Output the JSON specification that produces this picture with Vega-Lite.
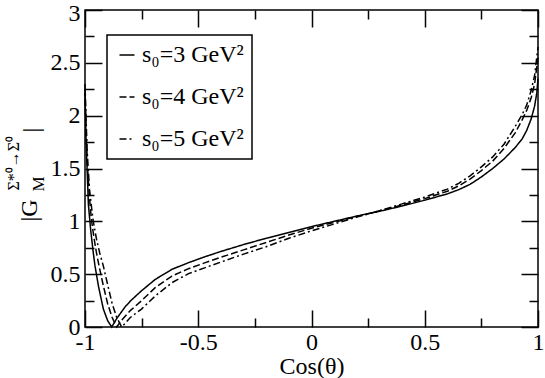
{
  "$schema": "https://vega.github.io/schema/vega-lite/v6.json",
  "width": 453,
  "height": 317,
  "autosize": {"type": "none"},
  "padding": {"left": 85, "top": 10, "right": 7, "bottom": 51},
  "background": "white",
  "config": {
    "font": "Liberation Serif",
    "view": {"stroke": "black", "strokeWidth": 1.5},
    "legend": {"strokeWidth": 1.5},
    "axis": {"grid": false, "domain": false, "labelColor": "black", "titleColor": "black", "labelFontSize": 24, "titleFontSize": 24, "titleFontWeight": "normal", "labelFont": "Liberation Serif", "titleFont": "Liberation Serif"}
  },
  "data": {"values": [
    {"x": -1, "y": 2.22, "s": "s₀=3 GeV²"},
    {"x": -0.995, "y": 1.75, "s": "s₀=3 GeV²"},
    {"x": -0.99, "y": 1.45, "s": "s₀=3 GeV²"},
    {"x": -0.985, "y": 1.16, "s": "s₀=3 GeV²"},
    {"x": -0.975, "y": 0.92, "s": "s₀=3 GeV²"},
    {"x": -0.965, "y": 0.73, "s": "s₀=3 GeV²"},
    {"x": -0.956, "y": 0.58, "s": "s₀=3 GeV²"},
    {"x": -0.94, "y": 0.38, "s": "s₀=3 GeV²"},
    {"x": -0.919, "y": 0.17, "s": "s₀=3 GeV²"},
    {"x": -0.9, "y": 0.06, "s": "s₀=3 GeV²"},
    {"x": -0.882, "y": 0.0, "s": "s₀=3 GeV²"},
    {"x": -0.86, "y": 0.08, "s": "s₀=3 GeV²"},
    {"x": -0.84, "y": 0.14, "s": "s₀=3 GeV²"},
    {"x": -0.823, "y": 0.19, "s": "s₀=3 GeV²"},
    {"x": -0.8, "y": 0.245, "s": "s₀=3 GeV²"},
    {"x": -0.752, "y": 0.34, "s": "s₀=3 GeV²"},
    {"x": -0.69, "y": 0.45, "s": "s₀=3 GeV²"},
    {"x": -0.616, "y": 0.546, "s": "s₀=3 GeV²"},
    {"x": -0.543, "y": 0.609, "s": "s₀=3 GeV²"},
    {"x": -0.469, "y": 0.666, "s": "s₀=3 GeV²"},
    {"x": -0.4, "y": 0.715, "s": "s₀=3 GeV²"},
    {"x": -0.3, "y": 0.78, "s": "s₀=3 GeV²"},
    {"x": -0.2, "y": 0.84, "s": "s₀=3 GeV²"},
    {"x": -0.1, "y": 0.895, "s": "s₀=3 GeV²"},
    {"x": 0, "y": 0.95, "s": "s₀=3 GeV²"},
    {"x": 0.1, "y": 1.0, "s": "s₀=3 GeV²"},
    {"x": 0.2, "y": 1.05, "s": "s₀=3 GeV²"},
    {"x": 0.3, "y": 1.095, "s": "s₀=3 GeV²"},
    {"x": 0.4, "y": 1.145, "s": "s₀=3 GeV²"},
    {"x": 0.5, "y": 1.2, "s": "s₀=3 GeV²"},
    {"x": 0.6, "y": 1.26, "s": "s₀=3 GeV²"},
    {"x": 0.65, "y": 1.3, "s": "s₀=3 GeV²"},
    {"x": 0.7, "y": 1.35, "s": "s₀=3 GeV²"},
    {"x": 0.75, "y": 1.42, "s": "s₀=3 GeV²"},
    {"x": 0.8, "y": 1.5, "s": "s₀=3 GeV²"},
    {"x": 0.85, "y": 1.59, "s": "s₀=3 GeV²"},
    {"x": 0.9, "y": 1.7, "s": "s₀=3 GeV²"},
    {"x": 0.93, "y": 1.78, "s": "s₀=3 GeV²"},
    {"x": 0.95, "y": 1.86, "s": "s₀=3 GeV²"},
    {"x": 0.97, "y": 1.97, "s": "s₀=3 GeV²"},
    {"x": 0.985, "y": 2.09, "s": "s₀=3 GeV²"},
    {"x": 0.995, "y": 2.22, "s": "s₀=3 GeV²"},
    {"x": 1, "y": 2.35, "s": "s₀=3 GeV²"},

    {"x": -1, "y": 2.25, "s": "s₀=4 GeV²"},
    {"x": -0.995, "y": 1.85, "s": "s₀=4 GeV²"},
    {"x": -0.99, "y": 1.55, "s": "s₀=4 GeV²"},
    {"x": -0.98, "y": 1.22, "s": "s₀=4 GeV²"},
    {"x": -0.972, "y": 1.02, "s": "s₀=4 GeV²"},
    {"x": -0.96, "y": 0.84, "s": "s₀=4 GeV²"},
    {"x": -0.95, "y": 0.71, "s": "s₀=4 GeV²"},
    {"x": -0.938, "y": 0.577, "s": "s₀=4 GeV²"},
    {"x": -0.92, "y": 0.4, "s": "s₀=4 GeV²"},
    {"x": -0.9, "y": 0.22, "s": "s₀=4 GeV²"},
    {"x": -0.88, "y": 0.09, "s": "s₀=4 GeV²"},
    {"x": -0.86, "y": 0.0, "s": "s₀=4 GeV²"},
    {"x": -0.84, "y": 0.06, "s": "s₀=4 GeV²"},
    {"x": -0.8, "y": 0.155, "s": "s₀=4 GeV²"},
    {"x": -0.752, "y": 0.246, "s": "s₀=4 GeV²"},
    {"x": -0.69, "y": 0.372, "s": "s₀=4 GeV²"},
    {"x": -0.616, "y": 0.482, "s": "s₀=4 GeV²"},
    {"x": -0.543, "y": 0.552, "s": "s₀=4 GeV²"},
    {"x": -0.469, "y": 0.609, "s": "s₀=4 GeV²"},
    {"x": -0.4, "y": 0.66, "s": "s₀=4 GeV²"},
    {"x": -0.3, "y": 0.73, "s": "s₀=4 GeV²"},
    {"x": -0.2, "y": 0.8, "s": "s₀=4 GeV²"},
    {"x": -0.1, "y": 0.87, "s": "s₀=4 GeV²"},
    {"x": 0, "y": 0.935, "s": "s₀=4 GeV²"},
    {"x": 0.1, "y": 0.99, "s": "s₀=4 GeV²"},
    {"x": 0.2, "y": 1.045, "s": "s₀=4 GeV²"},
    {"x": 0.3, "y": 1.1, "s": "s₀=4 GeV²"},
    {"x": 0.4, "y": 1.155, "s": "s₀=4 GeV²"},
    {"x": 0.5, "y": 1.215, "s": "s₀=4 GeV²"},
    {"x": 0.6, "y": 1.285, "s": "s₀=4 GeV²"},
    {"x": 0.65, "y": 1.335, "s": "s₀=4 GeV²"},
    {"x": 0.7, "y": 1.4, "s": "s₀=4 GeV²"},
    {"x": 0.75, "y": 1.48, "s": "s₀=4 GeV²"},
    {"x": 0.8, "y": 1.57, "s": "s₀=4 GeV²"},
    {"x": 0.85, "y": 1.69, "s": "s₀=4 GeV²"},
    {"x": 0.9, "y": 1.84, "s": "s₀=4 GeV²"},
    {"x": 0.93, "y": 1.96, "s": "s₀=4 GeV²"},
    {"x": 0.95, "y": 2.05, "s": "s₀=4 GeV²"},
    {"x": 0.97, "y": 2.17, "s": "s₀=4 GeV²"},
    {"x": 0.985, "y": 2.3, "s": "s₀=4 GeV²"},
    {"x": 1, "y": 2.55, "s": "s₀=4 GeV²"},

    {"x": -1, "y": 2.3, "s": "s₀=5 GeV²"},
    {"x": -0.995, "y": 1.95, "s": "s₀=5 GeV²"},
    {"x": -0.99, "y": 1.65, "s": "s₀=5 GeV²"},
    {"x": -0.98, "y": 1.3, "s": "s₀=5 GeV²"},
    {"x": -0.965, "y": 1.02, "s": "s₀=5 GeV²"},
    {"x": -0.95, "y": 0.84, "s": "s₀=5 GeV²"},
    {"x": -0.935, "y": 0.7, "s": "s₀=5 GeV²"},
    {"x": -0.919, "y": 0.577, "s": "s₀=5 GeV²"},
    {"x": -0.9, "y": 0.4, "s": "s₀=5 GeV²"},
    {"x": -0.88, "y": 0.22, "s": "s₀=5 GeV²"},
    {"x": -0.86, "y": 0.09, "s": "s₀=5 GeV²"},
    {"x": -0.838, "y": 0.0, "s": "s₀=5 GeV²"},
    {"x": -0.8, "y": 0.09, "s": "s₀=5 GeV²"},
    {"x": -0.752, "y": 0.167, "s": "s₀=5 GeV²"},
    {"x": -0.69, "y": 0.293, "s": "s₀=5 GeV²"},
    {"x": -0.616, "y": 0.42, "s": "s₀=5 GeV²"},
    {"x": -0.543, "y": 0.505, "s": "s₀=5 GeV²"},
    {"x": -0.469, "y": 0.562, "s": "s₀=5 GeV²"},
    {"x": -0.4, "y": 0.615, "s": "s₀=5 GeV²"},
    {"x": -0.3, "y": 0.69, "s": "s₀=5 GeV²"},
    {"x": -0.2, "y": 0.76, "s": "s₀=5 GeV²"},
    {"x": -0.1, "y": 0.84, "s": "s₀=5 GeV²"},
    {"x": 0, "y": 0.91, "s": "s₀=5 GeV²"},
    {"x": 0.1, "y": 0.975, "s": "s₀=5 GeV²"},
    {"x": 0.2, "y": 1.04, "s": "s₀=5 GeV²"},
    {"x": 0.3, "y": 1.1, "s": "s₀=5 GeV²"},
    {"x": 0.4, "y": 1.165, "s": "s₀=5 GeV²"},
    {"x": 0.5, "y": 1.23, "s": "s₀=5 GeV²"},
    {"x": 0.6, "y": 1.305, "s": "s₀=5 GeV²"},
    {"x": 0.65, "y": 1.36, "s": "s₀=5 GeV²"},
    {"x": 0.7, "y": 1.43, "s": "s₀=5 GeV²"},
    {"x": 0.75, "y": 1.515, "s": "s₀=5 GeV²"},
    {"x": 0.8, "y": 1.61, "s": "s₀=5 GeV²"},
    {"x": 0.85, "y": 1.73, "s": "s₀=5 GeV²"},
    {"x": 0.9, "y": 1.9, "s": "s₀=5 GeV²"},
    {"x": 0.93, "y": 2.01, "s": "s₀=5 GeV²"},
    {"x": 0.95, "y": 2.1, "s": "s₀=5 GeV²"},
    {"x": 0.97, "y": 2.24, "s": "s₀=5 GeV²"},
    {"x": 0.985, "y": 2.38, "s": "s₀=5 GeV²"},
    {"x": 1, "y": 2.65, "s": "s₀=5 GeV²"}
  ]},
  "resolve": {"axis": {"x": "independent", "y": "independent"}},
  "layer": [
    {
      "mark": {"type": "line", "color": "black", "strokeWidth": 1.5},
      "encoding": {
        "x": {"field": "x", "type": "quantitative", "scale": {"domain": [-1, 1], "nice": false, "zero": false},
          "axis": {"orient": "bottom", "values": [-1, -0.5, 0, 0.5, 1], "ticks": false, "labelPadding": 3, "labelFlush": false, "labelOverlap": false,
            "labelExpr": "'' + datum.value",
            "grid": true, "gridColor": "#050505", "gridWidth": 1.5, "gridOpacity": 1, "gridDash": [17, 283, 17, 1000],
            "title": "Cos(θ)", "titleX": 226.5, "titleY": 46, "titleAlign": "center", "titleBaseline": "alphabetic", "titleAngle": 0}},
        "y": {"field": "y", "type": "quantitative", "scale": {"domain": [0, 3], "nice": false, "zero": false},
          "axis": {"orient": "left", "values": [0, 0.5, 1, 1.5, 2, 2.5, 3], "ticks": false, "labelPadding": 5, "labelFlush": false, "labelOverlap": false,
            "labelExpr": "'' + datum.value",
            "labelOffset": {"condition": {"test": "datum.value == 3", "value": 3}, "value": 0},
            "grid": true, "gridColor": "#050505", "gridWidth": 1.5, "gridOpacity": 1, "gridDash": [17, 419, 17, 1000],
            "title": "|G", "titleX": -48.5, "titleY": 211, "titleAngle": 270, "titleAlign": "left", "titleBaseline": "alphabetic"}},
        "strokeDash": {"field": "s", "type": "nominal",
          "scale": {"domain": ["s₀=3 GeV²", "s₀=4 GeV²", "s₀=5 GeV²"], "range": [[1, 0], [7, 3], [7, 3, 2, 3]]},
          "legend": {"orient": "none", "legendX": 22, "legendY": 25, "title": null, "symbolType": "stroke", "symbolSize": 225, "symbolStrokeWidth": 1.5, "symbolStrokeColor": "black", "labelFontSize": 24, "labelFont": "Liberation Serif", "labelColor": "black", "labelOffset": 3, "rowPadding": 18, "padding": 8, "strokeColor": "black", "labelLimit": 0}}
      }
    },
    {
      "mark": {"type": "point", "opacity": 0},
      "encoding": {
        "x": {"field": "x", "type": "quantitative", "scale": {"domain": [-1, 1], "nice": false, "zero": false},
          "axis": {"orient": "bottom", "values": [-0.75, -0.25, 0.25, 0.75], "labels": false, "ticks": false, "title": null,
            "grid": true, "gridColor": "#050505", "gridWidth": 1.5, "gridOpacity": 1, "gridDash": [9, 299, 9, 1000]}},
        "y": {"field": "y", "type": "quantitative", "scale": {"domain": [0, 3], "nice": false, "zero": false},
          "axis": {"orient": "left", "values": [0.25, 0.75, 1.25, 1.75, 2.25, 2.75], "labels": false, "ticks": false, "title": null,
            "grid": true, "gridColor": "#050505", "gridWidth": 1.5, "gridOpacity": 1, "gridDash": [9, 435, 9, 1000]}}
      }
    },
    {
      "mark": {"type": "point", "opacity": 0},
      "encoding": {
        "x": {"field": "x", "type": "quantitative", "scale": {"domain": [-1, 1], "nice": false, "zero": false}, "axis": null},
        "y": {"field": "y", "type": "quantitative", "scale": {"domain": [0, 3], "nice": false, "zero": false},
          "axis": {"orient": "left", "labels": false, "ticks": false, "title": "M", "titleFontSize": 17, "titleX": -41.5, "titleY": 181, "titleAngle": 270, "titleAlign": "left", "titleBaseline": "alphabetic"}}
      }
    },
    {
      "mark": {"type": "point", "opacity": 0},
      "encoding": {
        "x": {"field": "x", "type": "quantitative", "scale": {"domain": [-1, 1], "nice": false, "zero": false}, "axis": null},
        "y": {"field": "y", "type": "quantitative", "scale": {"domain": [0, 3], "nice": false, "zero": false},
          "axis": {"orient": "left", "labels": false, "ticks": false, "title": "Σ*⁰→Σ⁰", "titleFontSize": 16, "titleX": -67, "titleY": 180, "titleAngle": 270, "titleAlign": "left", "titleBaseline": "alphabetic"}}
      }
    },
    {
      "mark": {"type": "point", "opacity": 0},
      "encoding": {
        "x": {"field": "x", "type": "quantitative", "scale": {"domain": [-1, 1], "nice": false, "zero": false}, "axis": null},
        "y": {"field": "y", "type": "quantitative", "scale": {"domain": [0, 3], "nice": false, "zero": false},
          "axis": {"orient": "left", "labels": false, "ticks": false, "title": "|", "titleX": -47, "titleY": 122, "titleAngle": 270, "titleAlign": "left", "titleBaseline": "alphabetic"}}
      }
    }
  ]
}
